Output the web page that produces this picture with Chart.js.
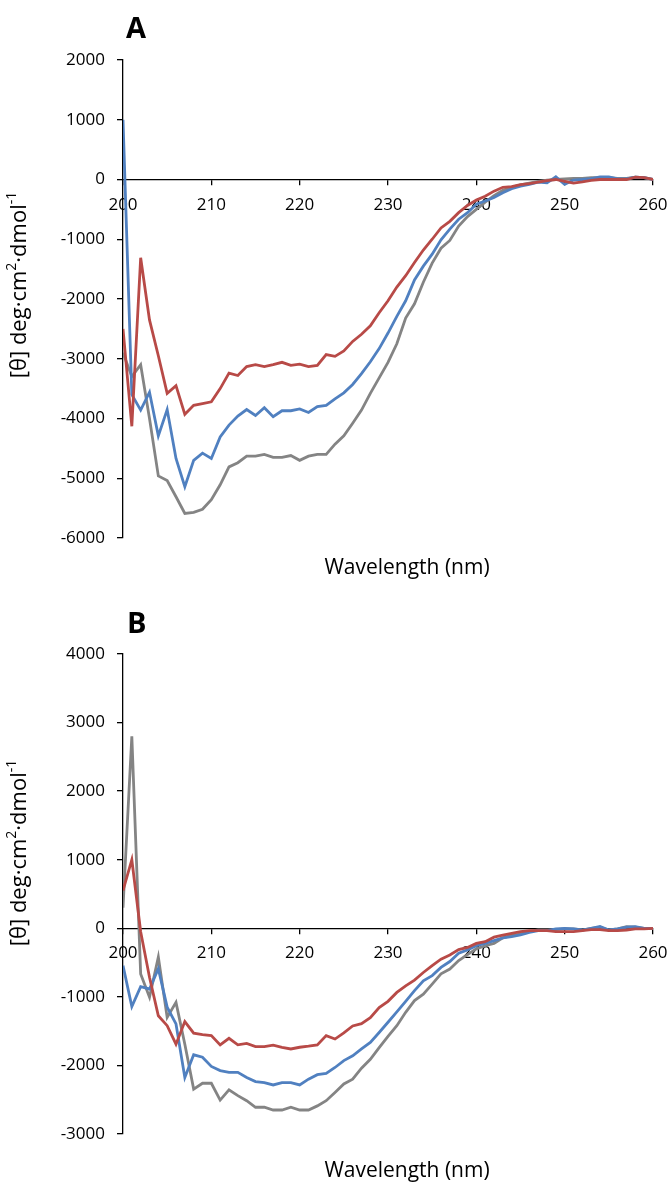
<!DOCTYPE html>
<html>
<head>
<meta charset="utf-8">
<script src="https://cdn.jsdelivr.net/npm/chart.js@4.4.1/dist/chart.umd.min.js"></script>
<style>
  body { margin: 0; background: #fff; }
  #wrap { position: relative; width: 670px; height: 1187px; }
  .panel { position: absolute; left: 0; width: 670px; }
</style>
</head>
<body>
<div id="wrap">
  <div class="panel" style="top:0;height:593px"><canvas id="chartA" width="670" height="593"></canvas></div>
  <div class="panel" style="top:593px;height:594px"><canvas id="chartB" width="670" height="594"></canvas></div>
</div>
<script>
// wavelength (nm)
const wavelengths = [200, 201, 202, 203, 204, 205, 206, 207, 208, 209,
  210, 211, 212, 213, 214, 215, 216, 217, 218, 219,
  220, 221, 222, 223, 224, 225, 226, 227, 228, 229,
  230, 231, 232, 233, 234, 235, 236, 237, 238, 239,
  240, 241, 242, 243, 244, 245, 246, 247, 248, 249,
  250, 251, 252, 253, 254, 255, 256, 257, 258, 259, 260];

// panel A
const grayA = [-2900, -3300, -3100, -4000, -4960, -5040, -5310, -5590, -5570, -5520,
  -5360, -5110, -4810, -4740, -4630, -4630, -4600, -4650, -4650, -4620,
  -4700, -4630, -4600, -4600, -4430, -4290, -4080, -3860, -3580, -3320,
  -3060, -2750, -2320, -2080, -1720, -1400, -1150, -1020, -780, -620,
  -500, -380, -270, -180, -130, -90, -60, -30, -10, 0,
  10, 20, 20, 30, 30, 30, 20, 20, 40, 30, 0];
const blueA = [1000, -3600, -3860, -3560, -4290, -3850, -4670, -5140, -4700, -4580,
  -4670, -4310, -4110, -3960, -3850, -3950, -3820, -3970, -3870, -3870,
  -3840, -3900, -3800, -3780, -3670, -3570, -3430, -3250, -3050, -2830,
  -2570, -2290, -2030, -1680, -1450, -1250, -1010, -830, -665, -555,
  -415, -360, -300, -220, -155, -110, -80, -45, -55, 45,
  -80, -10, 0, 15, 45, 45, 10, 10, 40, 30, 0];
const redA = [-2500, -4130, -1310, -2350, -2950, -3580, -3450, -3930, -3780, -3750,
  -3720, -3500, -3240, -3280, -3130, -3100, -3130, -3100, -3060, -3110,
  -3090, -3130, -3110, -2930, -2960, -2870, -2710, -2590, -2450, -2230,
  -2030, -1800, -1610, -1390, -1180, -1000, -810, -700, -555, -435,
  -345, -280, -195, -130, -120, -85, -70, -45, -20, 0,
  -30, -60, -40, -15, 0, 0, 0, 0, 40, 30, 0];

// panel B
const grayB = [300, 2800, -665, -1005, -420, -1300, -1080, -1690, -2345, -2260,
  -2260, -2505, -2355, -2440, -2515, -2610, -2610, -2650, -2650, -2610,
  -2650, -2650, -2590, -2515, -2395, -2270, -2200, -2040, -1910, -1740,
  -1575, -1420, -1225, -1055, -960, -815, -665, -595, -470, -385,
  -300, -255, -220, -140, -105, -85, -45, -25, -25, -20,
  -10, -10, -25, 0, 15, -25, -10, 25, 15, 0, 0];
const blueB = [-545, -1140, -850, -885, -590, -1150, -1395, -2175, -1845, -1880,
  -2015, -2075, -2100, -2100, -2175, -2235, -2250, -2285, -2250, -2250,
  -2285, -2200, -2135, -2115, -2030, -1930, -1860, -1760, -1665, -1520,
  -1370, -1220, -1065, -910, -765, -690, -570, -485, -365, -315,
  -255, -220, -180, -140, -120, -95, -60, -35, -35, -10,
  0, -10, -25, 0, 25, -25, -10, 15, 25, 0, 0];
const redB = [550, 1000, -50, -715, -1275, -1420, -1690, -1360, -1530, -1550,
  -1565, -1700, -1605, -1700, -1680, -1725, -1725, -1705, -1735, -1760,
  -1735, -1720, -1700, -1565, -1615, -1525, -1425, -1390, -1305, -1155,
  -1065, -935, -840, -755, -645, -545, -450, -390, -310, -280,
  -220, -195, -130, -100, -75, -50, -35, -35, -35, -50,
  -50, -50, -35, -20, -20, -35, -35, -25, -10, -10, 0];

const FONT = '"Open Sans", "Liberation Sans", sans-serif';

// draws "[θ] deg·cm²·dmol⁻¹" with real superscripts, centred on 0,0
function drawYTitle(ctx, size) {
  const parts = [
    ['[θ] deg·cm', false], ['2', true], ['·dmol', false], ['-1', true]
  ];
  const big = size + 'px ' + FONT, small = Math.round(size * 0.62) + 'px ' + FONT;
  let total = 0;
  parts.forEach(p => { ctx.font = p[1] ? small : big; total += ctx.measureText(p[0]).width; });
  let x = -total / 2;
  ctx.textAlign = 'left';
  ctx.textBaseline = 'alphabetic';
  parts.forEach(p => {
    ctx.font = p[1] ? small : big;
    ctx.fillText(p[0], x, p[1] ? size * 0.35 - size * 0.45 : size * 0.35);
    x += ctx.measureText(p[0]).width;
  });
}

const panelText = {
  id: 'panelText',
  afterDraw(chart, args, o) {
    const ctx = chart.ctx;
    ctx.save();
    ctx.fillStyle = '#000';
    ctx.font = 'bold 29px ' + FONT;
    ctx.textAlign = 'left';
    ctx.textBaseline = 'alphabetic';
    ctx.fillText(o.letter, o.letterX, o.letterY);

    ctx.font = '21px ' + FONT;
    ctx.textAlign = 'center';
    ctx.textBaseline = 'middle';
    ctx.fillText('Wavelength (nm)', o.xTitleX, o.xTitleY);

    ctx.translate(o.yTitleX, o.yTitleY);
    ctx.rotate(-Math.PI / 2);
    drawYTitle(ctx, 22);
    ctx.restore();
  }
};

function series(vals, color, order) {
  return {
    data: wavelengths.map((w, i) => ({ x: w, y: vals[i] })),
    borderColor: color,
    borderWidth: 2.8,
    pointRadius: 0,
    tension: 0,
    fill: false,
    order: order
  };
}

function makeChart(id, gray, blue, red, yMin, yMax, pad, text) {
  new Chart(document.getElementById(id), {
    type: 'line',
    data: {
      datasets: [
        series(red, '#B84A47', 1),
        series(blue, '#5080C0', 2),
        series(gray, '#848484', 3)
      ]
    },
    options: {
      responsive: false,
      animation: false,
      layout: { padding: pad },
      plugins: {
        legend: { display: false },
        tooltip: { enabled: false },
        panelText: text
      },
      scales: {
        x: {
          type: 'linear',
          min: 200,
          max: 260,
          position: { y: 0 },
          ticks: { stepSize: 10, color: '#000', font: { family: FONT, size: 17 }, padding: 10, maxRotation: 0,
            callback: v => String(v) },
          grid: { drawOnChartArea: false, color: '#000', tickLength: 5, lineWidth: 1.3 },
          border: { color: '#000', width: 1.3 },
          afterFit(scale) { scale.paddingLeft = 0; scale.paddingRight = 0; }
        },
        y: {
          min: yMin,
          max: yMax,
          ticks: { stepSize: 1000, color: '#000', font: { family: FONT, size: 17 }, padding: 12,
            callback: v => String(v) },
          grid: { drawOnChartArea: false, color: '#000', tickLength: 6, lineWidth: 1.3 },
          border: { color: '#000', width: 1.3 },
          afterFit(scale) { scale.width = 123; scale.paddingTop = 0; scale.paddingBottom = 0; }
        }
      }
    },
    plugins: [panelText]
  });
}

makeChart('chartA', grayA, blueA, redA, -6000, 2000,
  { left: 0, right: 17, top: 60, bottom: 55 },
  { letter: 'A', letterX: 126, letterY: 38, xTitleX: 407, xTitleY: 568, yTitleX: 18, yTitleY: 285 });

makeChart('chartB', grayB, blueB, redB, -3000, 4000,
  { left: 0, right: 17, top: 61, bottom: 53 },
  { letter: 'B', letterX: 127, letterY: 40, xTitleX: 407, xTitleY: 578, yTitleX: 18, yTitleY: 260 });
</script>
</body>
</html>
